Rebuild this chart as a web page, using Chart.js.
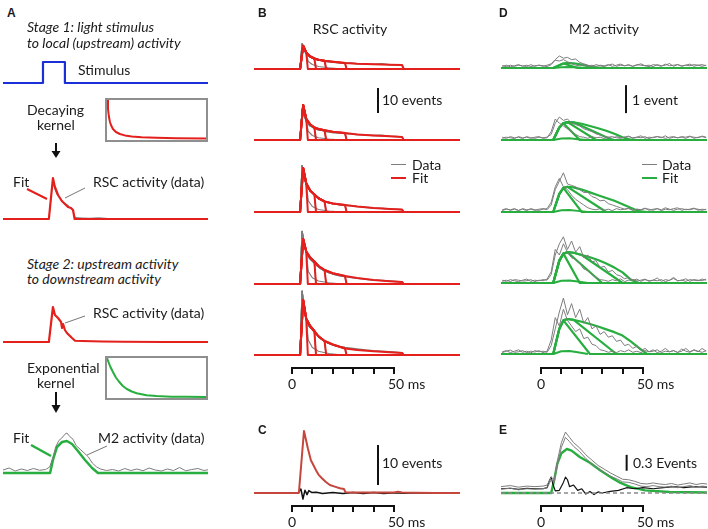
<!DOCTYPE html>
<html><head><meta charset="utf-8">
<script src="https://cdn.jsdelivr.net/npm/chart.js@4.4.1/dist/chart.umd.min.js"></script>
<style>
html,body{margin:0;padding:0;background:#fff;}
#fig{position:relative;width:708px;height:529px;overflow:hidden;background:#fff;font-family:Lato,"Open Sans",sans-serif;color:#1a1a1a;}
#fig canvas{position:absolute;}
.t{position:absolute;white-space:nowrap;font-size:14px;line-height:16px;transform:translateY(-50%);}
.c{transform:translate(-50%,-50%);}
.i{font-style:italic;}
.L{font-weight:bold;font-size:12px;font-family:"Liberation Sans",Arial,sans-serif;}
.box{position:absolute;border:2px solid #8f8f8f;box-sizing:border-box;}
.dash{position:absolute;height:0;}
svg{position:absolute;left:0;top:0;}
</style></head><body><div id="fig">
<svg width="708" height="529">
<line x1="27" y1="189" x2="47" y2="199" stroke="#e3201c" stroke-width="2"/>
<line x1="85" y1="188" x2="65" y2="198" stroke="#777" stroke-width="1"/>
<line x1="85" y1="316" x2="65" y2="323" stroke="#777" stroke-width="1"/>
<line x1="31" y1="445" x2="51" y2="456" stroke="#27ae3f" stroke-width="2.5"/>
<line x1="107" y1="446" x2="87" y2="455" stroke="#777" stroke-width="1"/>
<line x1="56" y1="143" x2="56" y2="152" stroke="#111" stroke-width="2"/>
<polygon points="51.5,151 60.5,151 56,158" fill="#111"/>
<line x1="56" y1="392" x2="56" y2="406" stroke="#111" stroke-width="2"/>
<polygon points="51.5,405 60.5,405 56,413" fill="#111"/>
</svg>
</div>
<script>
// ================= DATA =================
// ---- Panel A (schematic) ----
const stimTime  = [-19, 0.7, 0.7, 11.5, 11.5, 82];
const stimLevel = [0, 0, 1, 1, 0, 0];
const decayKernelX = [0, 1, 2, 3, 4, 6, 9, 13, 18, 25, 35, 50, 70, 100];
const decayKernelY = [40, 30, 22, 17, 14, 10, 7, 5, 3.6, 2.6, 1.8, 1.2, 0.8, 0.5];
const expKernelX = [0, 3, 6, 9, 12, 16, 20, 25, 30, 40, 50, 65, 80, 100];
const expKernelY = [39, 31, 25, 19.5, 15.5, 11, 8, 5.5, 3.8, 1.8, 0.9, 0.35, 0.15, 0.05];
const a1FitTime = [-19, 3.6, 5.6, 6.5, 8.1, 10, 12, 13, 14.5, 15.5, 16.3, 82];
const a1Fit     = [0, 0, 16.4, 13, 9.6, 7.2, 5.6, 4.8, 4.4, 3.6, 0, 0];
const a1DataTime = [-19, 3.6, 5.6, 6.5, 7.5, 9, 10.5, 12, 13, 14, 15.5, 16.5, 20, 24, 28, 33, 40, 82];
const a1Data     = [0, 0, 15.5, 12, 10, 8.4, 6.8, 6, 5.6, 4.4, 3.2, 0.6, 0.4, 0.3, 0.5, 0.2, 0, 0];
const a2Time = [-19, 3.6, 5.6, 6.6, 8.1, 9.6, 10.1, 10.6, 11.5, 12.5, 14, 15, 16.5, 20, 25, 30, 40, 60, 82];
const a2Rsc  = [0, 0, 14, 10.8, 9.6, 8, 5.6, 7.2, 4.8, 3.6, 2.4, 1.6, 0.5, 0.4, 0.3, 0.2, 0.1, 0, 0];
const a3FitTime = [-19, 4.2, 5.6, 7.6, 10.1, 12.5, 15, 17.5, 21.4, 24.9, 27.8, 82];
const a3Fit     = [0, 0, 5.2, 10.4, 12.4, 12.8, 11.6, 9.2, 5.2, 2, 0, 0];
const a3DataTime = [-19,-16,-13,-10,-7,-4,-1,2,4,5.5,7,8.5,10,11.5,12.5,14,15.5,17,19,21,23,25,27,29,32,35,38,41,44,47,50,53,56,59,62,65,68,71,74,77,80,82];
const a3Data     = [1.2,2.0,0.8,1.6,1.0,1.8,1.1,1.4,2.4,6,10.5,13,14,15.5,16,14.5,13.5,11,9.5,8,6.5,4,2.5,1.6,1.0,1.4,0.8,1.8,1.0,1.6,0.9,2.0,1.2,0.8,1.6,1.0,2.2,0.9,1.4,1.8,1.0,1.3];

// ---- Panel B (RSC activity, events) ----
const bPulseEnds = [7, 11, 16, 26, 54];            // ms, end of each fitted response
const bFitTime = [-19, 4, 5.5, 7, 9, 11, 13, 16, 20, 26, 32, 40, 48, 54];
const bFitRow1 = [0, 0, 9.3, 6.6, 5.0, 4.2, 3.7, 3.3, 2.9, 2.4, 2.1, 1.9, 1.7, 1.6];
const bFitRow2 = [0, 0, 14, 8.5, 6.2, 5.0, 4.4, 3.9, 3.3, 2.8, 2.2, 1.8, 1.5, 1.2];
const bFitRow3 = [0, 0, 17.6, 11.5, 8.5, 7.0, 5.5, 4.2, 3.4, 2.8, 2.2, 1.6, 1.2, 1.0];
const bFitRow4 = [0, 0, 18, 13, 10.5, 9, 7.2, 5.6, 4.3, 3.2, 2.4, 1.6, 1.1, 0.8];
const bFitRow5 = [0, 0, 22, 14.5, 11.5, 9.6, 7.5, 5.6, 4.2, 2.6, 2.0, 1.5, 1.1, 0.8];
const bDataTime = [-19, 4, 5, 6, 7, 8, 9, 10, 11, 12.5, 14, 16, 18, 20, 23, 26, 29, 32, 36, 40, 44, 48, 51, 54];
const bDataRow1 = [0, 0, 10, 7.5, 6.2, 5.4, 4.8, 4.6, 4.0, 3.8, 3.5, 3.0, 3.1, 2.7, 2.6, 2.3, 2.4, 2.1, 2.0, 1.9, 2.1, 1.7, 1.6, 1.5];
const bDataRow2 = [0, 0, 12, 10, 7.6, 6.5, 5.6, 5.2, 4.6, 4.2, 4.0, 3.5, 3.3, 3.0, 2.9, 2.6, 2.4, 2.2, 2.0, 1.8, 1.9, 1.5, 1.4, 1.2];
const bDataRow3 = [0, 0, 18.5, 14, 11, 9.5, 8.6, 7.8, 7.0, 6.0, 5.2, 4.3, 3.8, 3.4, 3.0, 2.7, 2.5, 2.2, 1.9, 1.6, 1.5, 1.2, 1.1, 0.9];
const bDataRow4 = [0, 0, 21, 16, 13, 11, 10, 9.2, 8.4, 7.2, 6.2, 5.2, 4.5, 4.0, 3.4, 3.0, 2.6, 2.3, 1.9, 1.6, 1.4, 1.2, 1.0, 0.8];
const bDataRow5 = [0, 0, 25.5, 18, 14.5, 12, 11, 10.2, 9.2, 7.8, 6.6, 5.4, 4.6, 4.0, 3.4, 3.0, 2.7, 2.4, 2.0, 1.7, 1.5, 1.3, 1.1, 0.9];
// decay of the recorded (gray) response after the shortest stimulus
const bShortTailTime = [8, 10, 13, 18, 25];
const bShortTailRow1 = [3.0, 1.8, 1.0, 0.5, 0];
const bShortTailRow2 = [3.5, 1.8, 0.9, 0.4, 0];
const bShortTailRow3 = [4.5, 2.2, 1.0, 0.4, 0];
const bShortTailRow4 = [5.0, 2.5, 1.2, 0.5, 0];
const bShortTailRow5 = [6.0, 3.0, 1.5, 0.6, 0];
const bScaleBarTime = [42.2, 42.2];
const bScaleBarEvents = [10.8, 20.8];   // "10 events"

// ---- Panel C (average RSC, events) ----
const cTime = [-18.6, 3.4, 5.9, 6.8, 7.8, 9.3, 10.5, 11.8, 13, 14.7, 16.5, 18.6, 21, 23.5, 25.5, 26.3, 30, 40, 50, 52, 54, 60, 70, 82.4];
const cFit  = [0, 0, 15.5, 13.5, 11.2, 8.2, 7.0, 5.7, 4.6, 3.7, 2.8, 2.0, 1.6, 1.2, 1.0, 0.2, 0.15, 0.1, 0.1, 0.3, 0.1, 0.05, 0, 0];
const cResidTime = [-18.6, 3, 4.4, 5.4, 6.4, 7.4, 8.3, 9.8, 12, 15, 20, 25, 30, 35, 40, 45, 50, 55, 60, 70, 82.4];
const cResid     = [0, 0, 1.0, -1.5, 0.7, -0.4, 0.6, 0.1, 0.2, -0.1, 0.15, -0.1, 0.1, -0.15, 0.1, -0.1, 0.05, -0.05, 0.05, 0, 0];
const cScaleBarTime = [42.2, 42.2];
const cScaleBarEvents = [2, 12];        // "10 events"

// ---- Panel D (M2 activity, events) ----
const dFitTime = [-19.6, 6, 9, 11, 13, 16, 20, 24, 28, 32, 36, 40, 44, 48, 52, 81.4];
const dFitRow1 = [0, 0, 0.1, 0.16, 0.18, 0.17, 0.12, 0.05, 0.01, 0, 0, 0, 0, 0, 0, 0];
const dFitRow2 = [0, 0, 0.45, 0.6, 0.64, 0.63, 0.58, 0.5, 0.42, 0.33, 0.22, 0.1, 0.01, 0, 0, 0];
const dFitRow3 = [0, 0, 0.65, 0.86, 0.9, 0.88, 0.8, 0.7, 0.6, 0.5, 0.4, 0.28, 0.15, 0.03, 0, 0];
const dFitRow4 = [0, 0, 0.8, 1.05, 1.1, 1.08, 1.0, 0.92, 0.82, 0.7, 0.55, 0.38, 0.12, 0, 0, 0];
const dFitRow5 = [0, 0, 0.9, 1.2, 1.25, 1.22, 1.15, 1.07, 0.98, 0.88, 0.78, 0.66, 0.45, 0.22, 0, 0];
const dBranchStartRow1 = [11],          dBranchEndRow1 = [18];
const dBranchStartRow2 = [11, 13, 16],  dBranchEndRow2 = [19, 27, 35];
const dBranchStartRow3 = [11, 13],      dBranchEndRow3 = [20, 32];
const dBranchStartRow4 = [11, 13, 20],  dBranchEndRow4 = [19, 30, 40];
const dBranchStartRow5 = [11, 16],      dBranchEndRow5 = [24, 37];
const dSmallTime = [6, 10, 14, 18, 23];
const dSmallRow1 = [0, 0.03, 0.04, 0.02, 0];
const dSmallRow2 = [0, 0.05, 0.06, 0.03, 0];
const dSmallRow3 = [0, 0.06, 0.07, 0.04, 0];
const dSmallRow4 = [0, 0.08, 0.09, 0.05, 0];
const dSmallRow5 = [0, 0.1, 0.11, 0.06, 0];
const dDataTime = [-19,-17,-15,-13,-11,-9,-7,-5,-3,-1,1,3,5,7,9,11,13,15,17,19,21,23,25,27,29,31,33,35,37,39,41,43,45,47,49,51,53,55,57,59,61,63,65,67,69,71,73,75,77,79,81];
const dDataRow1a = [0.06,0.1,0.04,0.08,0.12,0.06,0.1,0.05,0.08,0.1,0.06,0.1, 0.15,0.3,0.43,0.35,0.38,0.3,0.32,0.2,0.15, 0.1,0.06,0.12,0.08,0.05,0.1,0.14,0.06,0.1,0.08,0.12,0.06,0.1,0.15,0.08,0.1,0.05,0.12,0.08,0.1,0.16,0.06,0.12,0.08,0.1,0.14,0.06,0.1,0.12,0.08];
const dDataRow1b = [0.08,0.05,0.1,0.06,0.1,0.08,0.05,0.12,0.06,0.1,0.08,0.05, 0.12,0.28,0.25,0.3,0.22,0.15,0.1, 0.08,0.12,0.06,0.1,0.05,0.1,0.08,0.12,0.06,0.1,0.14,0.08,0.1,0.06,0.12,0.1,0.08,0.05,0.12,0.1,0.06,0.14,0.08,0.1,0.12,0.06,0.1,0.08,0.12,0.1,0.06,0.1];
const dDataRow2a = [0.1,0.06,0.12,0.08,0.1,0.05,0.12,0.08,0.06,0.1,0.08,0.1, 0.2,0.6,0.82,0.7,0.75,0.6,0.55,0.5,0.4,0.35,0.3,0.22,0.18,0.12, 0.1,0.06,0.12,0.08,0.1,0.14,0.06,0.1,0.08,0.12,0.05,0.1,0.12,0.08,0.15,0.06,0.1,0.08,0.12,0.1,0.14,0.06,0.1,0.12,0.08];
const dDataRow2b = [0.06,0.1,0.08,0.05,0.12,0.08,0.1,0.06,0.1,0.12,0.06,0.08, 0.3,0.75,0.6,0.5,0.4,0.3,0.2,0.12, 0.1,0.06,0.12,0.08,0.1,0.05,0.1,0.12,0.08,0.06,0.1,0.12,0.08,0.1,0.15,0.06,0.1,0.08,0.12,0.1,0.06,0.1,0.12,0.08,0.1,0.06,0.12,0.1,0.08,0.14,0.1];
const dDataRow3a = [0.08,0.12,0.06,0.1,0.05,0.12,0.08,0.1,0.06,0.1,0.12,0.08, 0.25,0.8,1.1,1.4,1.0,0.95,0.9,0.8,0.7,0.7,0.55,0.5,0.4,0.42,0.3,0.25,0.2,0.15,0.1, 0.12,0.06,0.1,0.08,0.14,0.06,0.1,0.12,0.05,0.1,0.08,0.12,0.15,0.06,0.1,0.08,0.12,0.1,0.06,0.1];
const dDataRow3b = [0.05,0.1,0.08,0.12,0.06,0.1,0.05,0.12,0.08,0.06,0.1,0.12, 0.35,0.9,1.2,0.9,0.8,0.6,0.45,0.35,0.25,0.15, 0.1,0.08,0.12,0.06,0.1,0.05,0.12,0.08,0.1,0.14,0.06,0.1,0.08,0.12,0.1,0.06,0.12,0.08,0.15,0.1,0.06,0.1,0.12,0.08,0.1,0.14,0.06,0.1,0.08];
const dDataRow4a = [0.1,0.06,0.12,0.08,0.05,0.1,0.14,0.06,0.1,0.08,0.12,0.1, 0.3,1.0,1.4,1.65,1.2,1.5,1.1,1.3,0.9,1.0,0.75,0.8,0.55,0.6,0.4,0.45,0.3,0.25,0.15,0.2, 0.1,0.14,0.06,0.12,0.08,0.1,0.18,0.06,0.12,0.09,0.2,0.08,0.1,0.15,0.06,0.12,0.1,0.08,0.14];
const dDataRow4b = [0.06,0.1,0.05,0.12,0.1,0.07,0.08,0.12,0.05,0.1,0.08,0.14, 0.4,1.2,1.0,1.4,1.1,0.9,0.85,0.7,0.5,0.45,0.3,0.2,0.12, 0.1,0.06,0.12,0.08,0.15,0.05,0.1,0.12,0.07,0.1,0.14,0.06,0.1,0.08,0.12,0.05,0.1,0.16,0.08,0.1,0.06,0.12,0.1,0.08,0.14,0.1];
const dDataRow5a = [0.08,0.12,0.05,0.1,0.15,0.06,0.1,0.04,0.12,0.08,0.1,0.06, 0.3,0.9,1.5,2.0,1.4,1.8,1.3,1.6,1.1,1.3,0.9,1.0,0.7,0.8,0.6,0.65,0.45,0.5,0.3,0.35,0.2,0.28,0.12,0.2, 0.08,0.15,0.05,0.1,0.2,0.08,0.12,0.05,0.18,0.1,0.06,0.14,0.08,0.2,0.1];
const dDataRow5b = [0.05,0.1,0.14,0.06,0.08,0.12,0.05,0.1,0.07,0.12,0.05,0.1, 0.5,1.3,1.0,1.6,1.2,1.0,0.8,0.9,0.55,0.6,0.35,0.3,0.15,0.12, 0.06,0.1,0.05,0.12,0.08,0.15,0.06,0.1,0.05,0.12,0.08,0.1,0.15,0.05,0.1,0.08,0.12,0.06,0.1,0.2,0.08,0.15,0.1,0.06,0.12];
const dScaleBarTime = [41.7, 41.7];
const dScaleBarEvents = [0.96, 1.96];   // "1 event"

// ---- Panel E (average M2, events) ----
const eFitTime = [-19.6, 5, 6.5, 8, 10, 12.7, 15, 19, 24, 29, 35, 39, 44, 51, 63, 81.4];
const eFit     = [0, 0, 0.25, 0.55, 0.75, 0.83, 0.8, 0.68, 0.57, 0.43, 0.28, 0.19, 0.11, 0.05, 0.02, 0.01];
const eDataTime = [-19.6,-15,-11,-7,-3,1,3,5,6.5,8,10,12,14,16,19,22,25,28,31,34,37,40,43,46,49,52,55,58,61,64,67,70,73,76,79,81.4];
const eDataUpper = [0.12,0.14,0.11,0.13,0.12,0.13,0.15,0.3,0.25,0.6,0.95,1.15,1.05,0.95,0.85,0.72,0.62,0.52,0.45,0.38,0.32,0.26,0.25,0.22,0.18,0.17,0.19,0.17,0.16,0.18,0.15,0.17,0.19,0.16,0.18,0.17];
const eDataLower = [0.07,0.09,0.06,0.08,0.07,0.08,0.1,0.25,0.2,0.52,0.86,1.05,0.97,0.88,0.78,0.65,0.55,0.46,0.39,0.32,0.27,0.21,0.2,0.17,0.13,0.12,0.14,0.12,0.11,0.13,0.1,0.12,0.14,0.11,0.13,0.12];
const eResidTime = [-19.6,-15,-11,-7,-3,1,3,4,5,6,7,9,11,12,13,14,16,18,20,22,24,26,28,30,34,38,42,46,50,55,60,65,70,75,81.4];
const eResid     = [0.08,0.09,0.07,0.09,0.08,0.08,0.1,0.22,0.3,0.15,0.04,0.05,0.2,0.3,0.25,0.12,0.15,0.05,0.08,-0.02,0.03,-0.03,0.02,0.0,0.03,0.05,0.1,0.08,0.1,0.08,0.1,0.12,0.1,0.12,0.11];
const eZeroTime = [-19.6, 81.4];
const eZero = [0, 0];
const eScaleBarTime = [42, 42];
const eScaleBarEvents = [0.42, 0.72];   // "0.3 Events"

// ================= STYLE / LAYOUT =================
const RED = '#e3201c', GREEN = '#27ae3f', GRAY = '#7d7d7d', BLUE = '#1b2fd6', BLACK = '#111';
const FIT_DROP_MS = 0.8;
const fig = document.getElementById('fig');

function pts(xs, ys){ return xs.map((x,i)=>({x:x, y:ys[i]})); }
function cutAt(xs, ys, cut, endX, xEnd){
  const out=[];
  for(let i=0;i<xs.length && xs[i]<=cut;i++) out.push({x:xs[i],y:ys[i]});
  out.push({x:endX,y:0}); out.push({x:xEnd,y:0});
  return out;
}
function withTail(xs, ys, cut, tx, ty, xEnd){
  const out=[];
  for(let i=0;i<xs.length && xs[i]<=cut;i++) out.push({x:xs[i],y:ys[i]});
  tx.forEach((x,i)=>out.push({x:x,y:ty[i]}));
  out.push({x:xEnd,y:0});
  return out;
}
function ds(data, color, width, dash){
  return {data:data, borderColor:color, borderWidth:width, pointRadius:0, fill:false, tension:0,
          borderDash:dash||[], borderJoinStyle:'round', borderCapStyle:'butt', clip:false};
}
function plot(o){
  const c=document.createElement('canvas');
  const h=o.above+o.below;
  c.width=o.width; c.height=h;
  c.style.left=o.left+'px'; c.style.top=(o.baseY-o.above)+'px';
  c.style.width=o.width+'px'; c.style.height=h+'px';
  fig.appendChild(c);
  new Chart(c,{type:'line',data:{datasets:o.datasets},options:{
    responsive:false, animation:false, devicePixelRatio:1, events:[],
    layout:{padding:0}, plugins:{legend:{display:false},tooltip:{enabled:false}},
    scales:{x:{type:'linear',display:false,min:o.xmin,max:o.xmax},
            y:{type:'linear',display:false,min:-o.below/o.ppu,max:o.above/o.ppu}}}});
}
function timeAxis(x0, x50, lineY){
  const pad=4, tl=6, h=16;
  const c=document.createElement('canvas');
  c.width=x50-x0+2*pad; c.height=h;
  c.style.left=(x0-pad)+'px'; c.style.top=(lineY-(h-tl))+'px';
  fig.appendChild(c);
  new Chart(c,{type:'line',data:{datasets:[]},options:{
    responsive:false, animation:false, devicePixelRatio:1, events:[],
    layout:{padding:{left:pad,right:pad,top:0,bottom:0}},
    plugins:{legend:{display:false},tooltip:{enabled:false}},
    scales:{x:{type:'linear',position:'bottom',min:0,max:50,
               ticks:{display:false,stepSize:10},
               grid:{drawOnChartArea:false,drawTicks:true,tickLength:tl,color:BLACK,lineWidth:2},
               border:{display:true,color:BLACK,width:2}},
            y:{display:false,min:0,max:1}}}});
}
function txt(x, y, s, cls){
  const d=document.createElement('div');
  d.className='t '+(cls||''); d.style.left=x+'px'; d.style.top=y+'px'; d.textContent=s;
  fig.appendChild(d);
}
function dash(x1, x2, y, color, w){
  const d=document.createElement('div'); d.className='dash';
  d.style.left=x1+'px'; d.style.width=(x2-x1)+'px'; d.style.top=(y-w/2)+'px';
  d.style.borderTop=w+'px solid '+color; fig.appendChild(d);
}

// ---------- Panel A ----------
const A = {left:3, width:205, xmin:-19, xmax:82};
plot(Object.assign({}, A, {baseY:83, above:25, below:3, ppu:21,
  datasets:[ds(pts(stimTime, stimLevel), BLUE, 2.2)]}));
const k1 = document.createElement('div'); k1.className='box';
k1.style.cssText='left:105px;top:98px;width:103px;height:44px;'; fig.appendChild(k1);
plot({left:107, width:99, baseY:139, above:39, below:1, xmin:0, xmax:100, ppu:1,
  datasets:[ds(pts(decayKernelX, decayKernelY), RED, 2)]});
plot(Object.assign({}, A, {baseY:219, above:50, below:4, ppu:2.5,
  datasets:[ds(pts(a1FitTime, a1Fit), RED, 2.2), ds(pts(a1DataTime, a1Data), GRAY, 1)]}));
plot(Object.assign({}, A, {baseY:342, above:45, below:4, ppu:2.5,
  datasets:[ds(pts(a2Time, a2Rsc), RED, 2.2)]}));
const k2 = document.createElement('div'); k2.className='box';
k2.style.cssText='left:105px;top:356px;width:103px;height:44px;'; fig.appendChild(k2);
plot({left:107, width:99, baseY:397, above:39, below:1, xmin:0, xmax:100, ppu:1,
  datasets:[ds(pts(expKernelX, expKernelY), GREEN, 2)]});
plot(Object.assign({}, A, {baseY:473, above:50, below:4, ppu:2.5,
  datasets:[ds(pts(a3DataTime, a3Data), GRAY, 1), ds(pts(a3FitTime, a3Fit), GREEN, 2.5)]}));

// ---------- Panel B ----------
const bFits = [bFitRow1, bFitRow2, bFitRow3, bFitRow4, bFitRow5];
const bData = [bDataRow1, bDataRow2, bDataRow3, bDataRow4, bDataRow5];
const bTails = [bShortTailRow1, bShortTailRow2, bShortTailRow3, bShortTailRow4, bShortTailRow5];
const bRowBaseY = [69, 140, 212, 284, 355];
const B = {left:254, width:206, xmin:-18.6, xmax:82.4, above:70, below:4, ppu:2.5};
bRowBaseY.forEach((by, r)=>{
  const sets=[];
  bPulseEnds.forEach(e=>sets.push(ds(cutAt(bFitTime, bFits[r], e, e+FIT_DROP_MS, B.xmax), RED, 2)));
  sets.push(ds(withTail(bDataTime, bData[r], bPulseEnds[0], bShortTailTime, bTails[r], B.xmax), GRAY, 1.2));
  bPulseEnds.slice(1).forEach(e=>sets.push(ds(cutAt(bDataTime, bData[r], e, e+FIT_DROP_MS, B.xmax), GRAY, 1.3)));
  if(r===1) sets.push(ds(pts(bScaleBarTime, bScaleBarEvents), BLACK, 2));
  plot(Object.assign({}, B, {baseY:by, datasets:sets}));
});
timeAxis(292, 394, 368);

// ---------- Panel C ----------
plot(Object.assign({}, B, {baseY:493, above:70, below:10, ppu:4, datasets:[
  ds(pts(cTime, cFit), '#c4463c', 2), ds(pts(cResidTime, cResid), BLACK, 1.5),
  ds(pts(cScaleBarTime, cScaleBarEvents), BLACK, 2)]}));
timeAxis(292, 394, 506);

// ---------- Panel D ----------
const dFits = [dFitRow1, dFitRow2, dFitRow3, dFitRow4, dFitRow5];
const dBStart = [dBranchStartRow1, dBranchStartRow2, dBranchStartRow3, dBranchStartRow4, dBranchStartRow5];
const dBEnd = [dBranchEndRow1, dBranchEndRow2, dBranchEndRow3, dBranchEndRow4, dBranchEndRow5];
const dSmall = [dSmallRow1, dSmallRow2, dSmallRow3, dSmallRow4, dSmallRow5];
const dDataA = [dDataRow1a, dDataRow2a, dDataRow3a, dDataRow4a, dDataRow5a];
const dDataB = [dDataRow1b, dDataRow2b, dDataRow3b, dDataRow4b, dDataRow5b];
const dRowBaseY = [68, 140, 212, 283, 354];
const D = {left:501, width:206, xmin:-19.6, xmax:81.4, above:70, below:4, ppu:28};
dRowBaseY.forEach((by, r)=>{
  const sets=[ds(pts(dDataTime, dDataA[r]), GRAY, 1), ds(pts(dDataTime, dDataB[r]), GRAY, 1)];
  sets.push(ds(pts(dSmallTime, dSmall[r]), GREEN, 2));
  dBStart[r].forEach((s,i)=>sets.push(ds(cutAt(dFitTime, dFits[r], s, dBEnd[r][i], D.xmax), GREEN, 2.2)));
  sets.push(ds(pts(dFitTime, dFits[r]), GREEN, 2.2));
  if(r===1) sets.push(ds(pts(dScaleBarTime, dScaleBarEvents), BLACK, 2));
  plot(Object.assign({}, D, {baseY:by, datasets:sets}));
});
timeAxis(541, 643, 368);

// ---------- Panel E ----------
plot(Object.assign({}, D, {baseY:493, above:70, below:6, ppu:53, datasets:[
  ds(pts(eZeroTime, eZero), '#8a8a8a', 1.5, [4,3]),
  ds(pts(eDataTime, eDataUpper), GRAY, 1), ds(pts(eDataTime, eDataLower), GRAY, 1),
  ds(pts(eResidTime, eResid), BLACK, 1.2),
  ds(pts(eFitTime, eFit), GREEN, 2.4),
  ds(pts(eScaleBarTime, eScaleBarEvents), BLACK, 2)]}));
timeAxis(541, 643, 506);

// ---------- Text ----------
txt(7, 13, 'A', 'L'); txt(258, 13, 'B', 'L'); txt(499, 13, 'D', 'L');
txt(258, 430, 'C', 'L'); txt(499, 430, 'E', 'L');
txt(27, 27, 'Stage 1: light stimulus', 'i'); txt(27, 43, 'to local (upstream) activity', 'i');
txt(78, 70, 'Stimulus');
txt(27, 110, 'Decaying'); txt(37, 125, 'kernel');
txt(13, 182, 'Fit'); txt(93, 182, 'RSC activity (data)');
txt(27, 264, 'Stage 2: upstream activity', 'i'); txt(27, 279, 'to downstream activity', 'i');
txt(93, 313, 'RSC activity (data)');
txt(27, 368, 'Exponential'); txt(37, 383, 'kernel');
txt(13, 438, 'Fit'); txt(98, 438, 'M2 activity (data)');
txt(350, 29, 'RSC activity', 'c'); txt(604, 29, 'M2 activity', 'c');
txt(382, 100, '10 events'); txt(632, 100, '1 event');
dash(391, 406, 165, GRAY, 1.5); dash(391, 406, 178, RED, 2.5);
txt(412, 165, 'Data'); txt(412, 178, 'Fit');
dash(642, 657, 165, GRAY, 1.5); dash(642, 657, 178, GREEN, 2.5);
txt(662, 165, 'Data'); txt(662, 178, 'Fit');
txt(292, 384, '0', 'c'); txt(388, 384, '50 ms');
txt(541, 384, '0', 'c'); txt(637, 384, '50 ms');
txt(292, 522, '0', 'c'); txt(388, 522, '50 ms');
txt(541, 522, '0', 'c'); txt(637, 522, '50 ms');
txt(382, 463, '10 events'); txt(633, 463, '0.3 Events');
</script></body></html>
